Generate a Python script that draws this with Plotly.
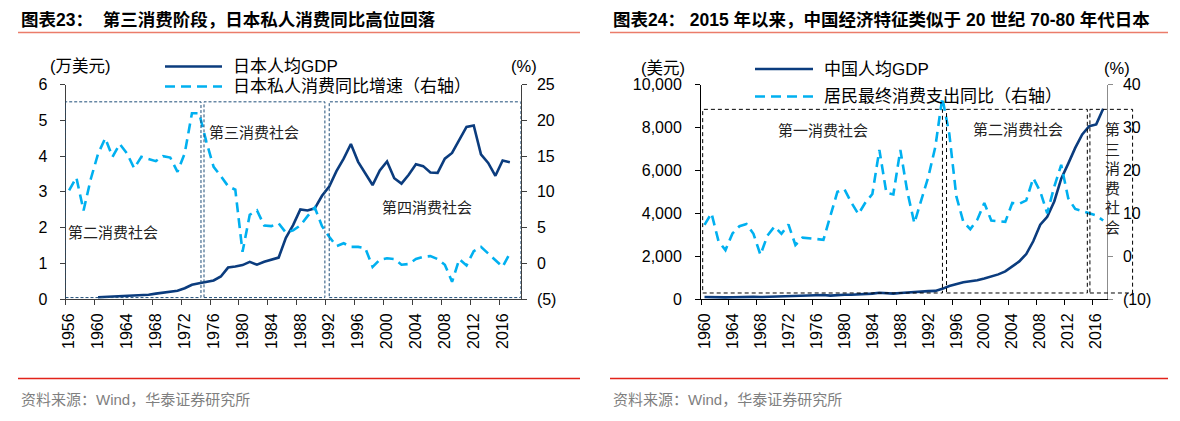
import plotly.graph_objects as go

W, H = 1180, 421

# ---------------- data ----------------
years_jp = list(range(1956, 2018))
gdp_jp = [None, None, None, None,
          0.05, 0.06, 0.06, 0.07, 0.08, 0.09, 0.11, 0.12, 0.15, 0.17,
          0.20, 0.23, 0.30, 0.40, 0.44, 0.47, 0.52, 0.63, 0.88, 0.91,
          0.95, 1.04, 0.96, 1.04, 1.10, 1.16, 1.71, 2.07, 2.51, 2.48,
          2.54, 2.89, 3.15, 3.58, 3.93, 4.34, 3.84, 3.50, 3.19, 3.60,
          3.85, 3.38, 3.23, 3.48, 3.77, 3.72, 3.54, 3.53, 3.93, 4.09,
          4.45, 4.82, 4.86, 4.05, 3.81, 3.45, 3.88, 3.83]
cons_jp = [10.2, 12.0, 7.4, 11.8, 15.3, 17.5, 14.9, 16.7, 15.4, 13.3,
           14.9, 14.6, 14.3, 15.0, 14.8, 12.8, 15.4, 21.0, 21.0, 17.0,
           13.5, 12.2, 10.8, 10.3, 1.6, 6.8, 7.4, 5.3, 5.2, 5.6,
           4.3, 4.6, 5.3, 6.6, 7.8, 5.2, 3.7, 2.4, 2.8, 2.3,
           2.3, 2.1, -0.5, 0.5, 0.7, 0.6, -0.2, -0.1, 0.6, 0.9,
           1.0, 0.6, -0.2, -2.6, 0.6, -0.3, 1.7, 2.3, 1.4, 0.4,
           -0.5, 1.4]

years_cn = list(range(1960, 2018))
gdp_cn = [90, 76, 70, 74, 85, 98, 104, 97, 91, 100,
          113, 119, 132, 157, 160, 178, 165, 185, 156, 183,
          195, 197, 203, 225, 250, 294, 281, 251, 283, 310,
          317, 333, 366, 377, 473, 610, 709, 782, 829, 873,
          959, 1053, 1149, 1289, 1509, 1753, 2099, 2694, 3468, 3832,
          4550, 5618, 6317, 7051, 7679, 8067, 8148, 8879]
cons_cn = [7.3, 10.0, 3.5, 1.4, 5.3, 7.0, 7.5, 5.2, 0.3, 4.8,
           6.9, 5.2, 7.4, 2.6, 4.3, 4.2, 4.0, 3.8, 9.3, 15.0,
           15.6, 12.5, 9.8, 12.5, 14.5, 24.8, 14.8, 14.4, 24.8, 15.0,
           7.7, 13.0, 18.5, 25.5, 37.0, 28.5, 14.0, 8.0, 6.3, 8.5,
           12.4, 8.3, 8.2, 8.0, 12.4, 12.2, 13.0, 18.2, 15.1, 10.0,
           16.2, 21.3, 13.5, 11.0, 10.5, 10.0, 9.5, 8.3]

jp_left_ticks = [0, 1, 2, 3, 4, 5, 6]
jp_right_ticks = [-5, 0, 5, 10, 15, 20, 25]
cn_left_ticks = [0, 2000, 4000, 6000, 8000, 10000]
cn_right_ticks = [-10, 0, 10, 20, 30, 40]
jp_xticks = list(range(1956, 2017, 4))
cn_xticks = list(range(1960, 2017, 4))

# era boxes (year bounds, value bounds on left axis)
jp_eras = [(1955.5, 1974.25), (1974.67, 1991.4), (1992.0, 2018.5)]
jp_era_y = (0.04, 5.52)
jp_era_labels = [("第二消费社会", 1962.1, 1.88), ("第三消费社会", 1981.6, 4.68),
                 ("第四消费社会", 2005.5, 2.60)]
cn_eras = [(1959.74, 1994.02), (1994.6, 2014.73), (2015.1, 2021.2)]
cn_era_y = (280, 8850)
cn_era_labels = [("第一消费社会", 1976.9, 7930), ("第二消费社会", 2004.8, 7970)]

# ---------------- styling ----------------
NAVY = "#0B3C7E"
SKY = "#00B0F0"
TICKFONT = dict(family="Liberation Sans, Arial, sans-serif", size=16, color="#000000")
CJK = "Noto Sans CJK SC"

def px(x):
    return x / W

def py(y):
    return 1 - y / H

def neg(v):
    return "(%d)" % abs(v) if v < 0 else str(v)

XR1 = [1955.5, 2018.5]
XR2 = [1959.5, 2017.5]
YR3 = [0, 10000]

fig = go.Figure()
fig.add_trace(go.Scatter(x=years_jp, y=gdp_jp, mode="lines", xaxis="x", yaxis="y",
                         line=dict(color=NAVY, width=2.6), connectgaps=False,
                         showlegend=False))
fig.add_trace(go.Scatter(x=years_jp, y=cons_jp, mode="lines", xaxis="x", yaxis="y2",
                         line=dict(color=SKY, width=2.6, dash="10px,6px"), showlegend=False))
fig.add_trace(go.Scatter(x=years_cn, y=gdp_cn, mode="lines", xaxis="x2", yaxis="y3",
                         line=dict(color=NAVY, width=2.6), showlegend=False))
fig.add_trace(go.Scatter(x=years_cn, y=cons_cn, mode="lines", xaxis="x2", yaxis="y4",
                         line=dict(color=SKY, width=2.6, dash="10px,6px"), showlegend=False))

AX1 = "#3F3F3F"
common_y = dict(showgrid=False, zeroline=False, showline=True, linewidth=1, ticks="outside",
                ticklen=5, tickwidth=1, tickfont=TICKFONT, tickmode="array",
                fixedrange=True, automargin=False)

def xaxis(domain, rng, ticks, anchor, color):
    return dict(domain=domain, range=rng, anchor=anchor, tickmode="array",
                tickvals=ticks, ticktext=[str(t) for t in ticks], tickangle=-90,
                ticks="", showline=True, linecolor=color, linewidth=1,
                showgrid=False, zeroline=False, tickfont=TICKFONT,
                ticklabelstandoff=7, automargin=False,
                minor=dict(tickmode="array", tickvals=[t - 0.5 for t in ticks],
                           ticks="outside", ticklen=5, tickwidth=1, tickcolor=color,
                           showgrid=False),
                fixedrange=True)

ydom = [py(299), py(84.7)]

fig.update_layout(
    width=W, height=H, autosize=False,
    margin=dict(l=0, r=0, t=0, b=0, pad=0, autoexpand=False),
    paper_bgcolor="white", plot_bgcolor="rgba(0,0,0,0)",
    xaxis=xaxis([px(65.5), px(520.7)], XR1, jp_xticks, "y", AX1),
    xaxis2=xaxis([px(701), px(1106.7)], XR2, cn_xticks, "y3", "#000000"),
    yaxis=dict(common_y, domain=ydom, range=[0, 6], anchor="x", linecolor=AX1, tickcolor=AX1,
               tickvals=jp_left_ticks, ticktext=[str(t) for t in jp_left_ticks],
               ticklabelstandoff=9),
    yaxis2=dict(common_y, domain=ydom, range=[-5, 25], anchor="x", overlaying="y", side="right",
                linecolor=AX1, tickcolor=AX1, tickvals=jp_right_ticks,
                ticktext=[neg(t) for t in jp_right_ticks], ticklabelstandoff=7),
    yaxis3=dict(common_y, domain=ydom, range=YR3, anchor="x2", linecolor="#000000",
                tickcolor="#000000", tickvals=cn_left_ticks,
                ticktext=["{:,}".format(t) for t in cn_left_ticks], ticklabelstandoff=10),
    yaxis4=dict(common_y, domain=ydom, range=[-10, 40], anchor="x2", overlaying="y3",
                side="right", linecolor="#8C8C8C", tickcolor="#8C8C8C",
                tickvals=cn_right_ticks, ticktext=[neg(t) for t in cn_right_ticks],
                ticklabelstandoff=7),
)

shapes = []
annotations = []

# era boxes - Japan
for x0, x1 in jp_eras:
    shapes.append(dict(type="rect", xref="x", yref="y", x0=x0, x1=x1,
                       y0=jp_era_y[0], y1=jp_era_y[1],
                       line=dict(color="#1F4E79", width=1, dash="3px,2px"),
                       fillcolor="rgba(0,0,0,0)", layer="above"))
for txt, xv, yv in jp_era_labels:
    annotations.append(dict(text=txt, xref="x", yref="y", x=xv, y=yv, showarrow=False,
                            xanchor="center", yanchor="middle",
                            font=dict(family=CJK, size=15, color="#222222")))

# era boxes - China (domain refs so the last box can extend past the axis)
def fx2(v):
    return (v - XR2[0]) / (XR2[1] - XR2[0])

def fy3(v):
    return (v - YR3[0]) / (YR3[1] - YR3[0])

for x0, x1 in cn_eras:
    shapes.append(dict(type="rect", xref="x2 domain", yref="y3 domain", x0=fx2(x0), x1=fx2(x1),
                       y0=fy3(cn_era_y[0]), y1=fy3(cn_era_y[1]),
                       line=dict(color="#000000", width=1, dash="4px,3px"),
                       fillcolor="rgba(0,0,0,0)", layer="above"))
for txt, xv, yv in cn_era_labels:
    annotations.append(dict(text=txt, xref="x2", yref="y3", x=xv, y=yv, showarrow=False,
                            xanchor="center", yanchor="middle",
                            font=dict(family=CJK, size=15, color="#222222")))
annotations.append(dict(text="<br>".join("第三消费社会"), xref="x2 domain", yref="y3 domain",
                        x=fx2(2018.26), y=fy3(5650), showarrow=False,
                        xanchor="center", yanchor="middle",
                        font=dict(family=CJK, size=15, color="#222222")))

# titles, rules and sources
titles = [("图表23：\u00a0\u00a0第三消费阶段，日本私人消费同比高位回落", 19),
          ("图表24：\u00a02015 年以来，中国经济特征类似于 20 世纪 70-80 年代日本", 611)]
for txt, x in titles:
    annotations.append(dict(text="<b>" + txt + "</b>", xref="paper", yref="paper",
                            x=px(x), y=py(20), xanchor="left", yanchor="middle",
                            showarrow=False,
                            font=dict(family="Liberation Sans, " + CJK, size=17.5, color="#000000")))
for x0, x1 in [(18, 580), (610, 1168)]:
    shapes.append(dict(type="line", xref="paper", yref="paper", x0=px(x0), x1=px(x1),
                       y0=py(32.5), y1=py(32.5), line=dict(color="#EB7C6A", width=1.5)))
    shapes.append(dict(type="line", xref="paper", yref="paper", x0=px(x0), x1=px(x1),
                       y0=py(378.5), y1=py(378.5), line=dict(color="#E2231A", width=1.5)))
for x in [19, 611]:
    annotations.append(dict(text="资料来源：Wind，华泰证券研究所", xref="paper", yref="paper",
                            x=px(x), y=py(399), xanchor="left", yanchor="middle",
                            showarrow=False,
                            font=dict(family="Liberation Sans, " + CJK, size=15, color="#7F7F7F")))

# unit labels
for txt, x, y in [("(万美元)", 80, 66.5), ("(%)", 524, 66.5), ("(美元)", 663, 68), ("(%)", 1117, 68)]:
    annotations.append(dict(text=txt, xref="paper", yref="paper", x=px(x), y=py(y),
                            xanchor="center", yanchor="middle", showarrow=False,
                            font=dict(family="Liberation Sans, " + CJK, size=16.5, color="#000000")))

# legends
legend_items = [
    (165, 222, 66.5, 231, "日本人均GDP", "solid", NAVY),
    (165, 222, 86.5, 231, "日本私人消费同比增速（右轴）", "10px,6px", SKY),
    (755, 813, 69, 822, "中国人均GDP", "solid", NAVY),
    (755, 813, 96.5, 822, "居民最终消费支出同比（右轴）", "10px,6px", SKY),
]
for x0, x1, y, tx, txt, dash, col in legend_items:
    shapes.append(dict(type="line", xref="paper", yref="paper", x0=px(x0), x1=px(x1),
                       y0=py(y), y1=py(y), line=dict(color=col, width=2.6, dash=dash)))
    annotations.append(dict(text=txt, xref="paper", yref="paper", x=px(tx), y=py(y),
                            xanchor="left", yanchor="middle", showarrow=False,
                            font=dict(family="Liberation Sans, " + CJK, size=17, color="#000000")))

fig.update_layout(shapes=shapes, annotations=annotations)
fig.write_html("out.html", config={"displayModeBar": False},
               post_script="document.body.style.margin='0px';document.body.style.overflow='hidden';")
